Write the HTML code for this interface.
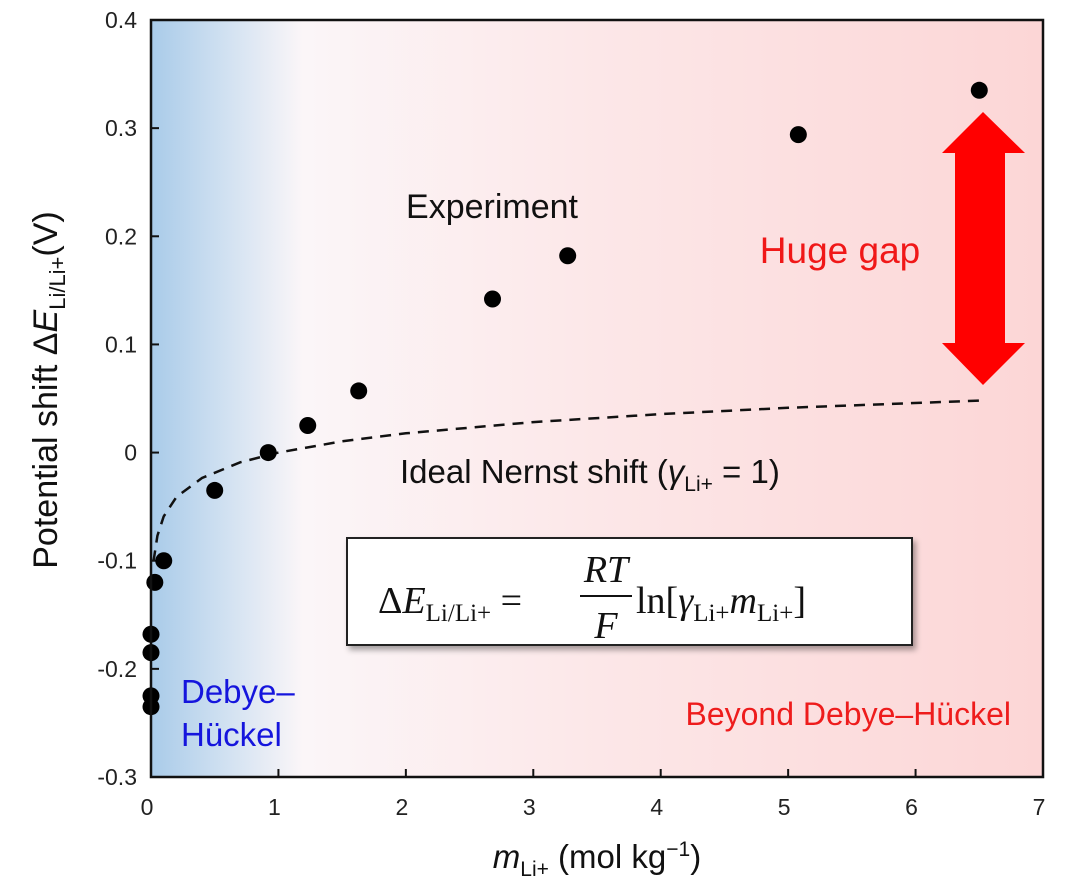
<!DOCTYPE html>
<html><head><meta charset="utf-8"><style>
html,body{margin:0;padding:0;background:#fff;}
svg{display:block;font-family:"Liberation Sans",sans-serif;}
</style></head><body>
<svg id="chart" width="1075" height="888" viewBox="0 0 1075 888" xmlns="http://www.w3.org/2000/svg">
<defs>
<linearGradient id="bg" x1="0" y1="0" x2="1" y2="0">
<stop offset="0" stop-color="#a9cbe9"/>
<stop offset="0.08" stop-color="#cfe0f1"/>
<stop offset="0.17" stop-color="#fbf6f8"/>
<stop offset="0.5" stop-color="#fce7e8"/>
<stop offset="1" stop-color="#fcd6d6"/>
</linearGradient>
<filter id="sh" x="-5%" y="-10%" width="115%" height="130%"><feDropShadow dx="3" dy="4" stdDeviation="3" flood-color="#000" flood-opacity="0.35"/></filter>
</defs>
<rect x="151" y="20" width="892" height="757" fill="url(#bg)"/>
<g id="ticks"></g>
<path id="nernst" fill="none" stroke="#111" stroke-width="2.5" stroke-dasharray="11,8"/>
<g id="points"></g>
<rect x="151" y="20" width="892" height="757" fill="none" stroke="#111" stroke-width="2.5"/>
<text x="492" y="218" font-size="34" text-anchor="middle" fill="#111">Experiment</text>
<text x="400" y="483" font-size="33" fill="#111">Ideal Nernst shift (<tspan font-style="italic">γ</tspan><tspan font-size="21" dy="8">Li+</tspan><tspan dy="-8"> = 1)</tspan></text>
<g>
<rect x="347" y="538" width="565" height="107" fill="#fff" stroke="#222" stroke-width="2" filter="url(#sh)"/>
<text x="378" y="613" font-family="Liberation Serif,serif" font-size="38" fill="#111">Δ<tspan font-style="italic">E</tspan><tspan font-size="25" dy="8">Li/Li+</tspan><tspan dy="-8"> = </tspan></text>
<text x="606" y="582" font-family="Liberation Serif,serif" font-size="38" font-style="italic" text-anchor="middle" fill="#111">RT</text>
<line x1="580" y1="596" x2="632" y2="596" stroke="#111" stroke-width="2"/>
<text x="606" y="638" font-family="Liberation Serif,serif" font-size="38" font-style="italic" text-anchor="middle" fill="#111">F</text>
<text x="636" y="613" font-family="Liberation Serif,serif" font-size="38" fill="#111">ln[<tspan font-style="italic">γ</tspan><tspan font-size="25" dy="8">Li+</tspan><tspan dy="-8" font-style="italic">m</tspan><tspan font-size="25" dy="8">Li+</tspan><tspan dy="-8">]</tspan></text>
</g>
<text x="840" y="263" font-size="37" text-anchor="middle" fill="#f01818">Huge gap</text>
<polygon points="983,112 1025,153 1005,153 1005,343 1025,343 983,385 942,343 955,343 955,153 942,153" fill="#ff0000"/>
<text x="181" y="703" font-size="33" fill="#1515dd">Debye–</text>
<text x="181" y="746" font-size="33" fill="#1515dd">Hückel</text>
<text x="1011" y="725" font-size="32" text-anchor="end" fill="#ee1c1c">Beyond Debye–Hückel</text>
<text x="597" y="868" font-size="33" text-anchor="middle" fill="#111"><tspan font-style="italic">m</tspan><tspan font-size="21" dy="8">Li+</tspan><tspan dy="-8"> (mol kg</tspan><tspan font-size="21" dy="-12">−1</tspan><tspan dy="12">)</tspan></text>
<text transform="translate(57,390) rotate(-90)" font-size="34" text-anchor="middle" fill="#111">Potential shift Δ<tspan font-style="italic">E</tspan><tspan font-size="22" dy="8">Li/Li+</tspan><tspan dy="-8">(V)</tspan></text>
</svg>
<script>
const xTicks=[0,1,2,3,4,5,6,7];
const yTicks=[0.4,0.3,0.2,0.1,0,-0.1,-0.2,-0.3];
const yTickLabels=["0.4","0.3","0.2","0.1","0","-0.1","-0.2","-0.3"];
const expM=[0,0,0,0,0.03,0.1,0.5,0.92,1.23,1.63,2.68,3.27,5.08,6.5];
const expE=[-0.235,-0.225,-0.185,-0.168,-0.12,-0.1,-0.035,0.0,0.025,0.057,0.142,0.182,0.294,0.335];
const nernstM=[0.02,0.05,0.1,0.2,0.4,0.7,1,1.5,2,3,4,5,6.5];
const nernstE=[-0.1005,-0.077,-0.059,-0.041,-0.0235,-0.009,0,0.0104,0.0178,0.0282,0.0356,0.0414,0.0481];
const X0=151,X1=1043,Y0=777,Y1=20;
const xs=v=>X0+(v-0)/(7-0)*(X1-X0);
const ys=v=>Y0-(v+0.3)/(0.7)*(Y0-Y1);
const NS="http://www.w3.org/2000/svg";
const tg=document.getElementById('ticks');
xTicks.forEach(t=>{
 const l=document.createElementNS(NS,'line');
 
 
 l.setAttribute('x1',xs(t));l.setAttribute('x2',xs(t));l.setAttribute('y1',Y0);l.setAttribute('y2',Y0-8);
 l.setAttribute('stroke','#111');l.setAttribute('stroke-width','2');tg.appendChild(l);
 const tx=document.createElementNS(NS,'text');
 
 
 tx.setAttribute('x',xs(t)-4);tx.setAttribute('y',815);tx.setAttribute('font-size','23');tx.setAttribute('text-anchor','middle');tx.setAttribute('fill','#222');
 tx.textContent=t;tg.appendChild(tx);
});
yTicks.forEach((t,i)=>{
 const l=document.createElementNS(NS,'line');
 
 
 l.setAttribute('x1',X0);l.setAttribute('x2',X0+8);l.setAttribute('y1',ys(t));l.setAttribute('y2',ys(t));
 l.setAttribute('stroke','#111');l.setAttribute('stroke-width','2');tg.appendChild(l);
 const tx=document.createElementNS(NS,'text');
 
 
 tx.setAttribute('x',137);tx.setAttribute('y',ys(t)+8);tx.setAttribute('font-size','23');tx.setAttribute('text-anchor','end');tx.setAttribute('fill','#222');
 tx.textContent=yTickLabels[i];tg.appendChild(tx);
});
document.getElementById('nernst').setAttribute('d',nernstM.map((m,i)=>(i?'L':'M')+xs(m).toFixed(1)+','+ys(nernstE[i]).toFixed(1)).join(' '));
const pg=document.getElementById('points');
expM.forEach((m,i)=>{
 const c=document.createElementNS(NS,'circle');
 
 
 c.setAttribute('cx',xs(m));c.setAttribute('cy',ys(expE[i]));c.setAttribute('r','8.5');c.setAttribute('fill','#000');
 pg.appendChild(c);
});
</script>
</body></html>
